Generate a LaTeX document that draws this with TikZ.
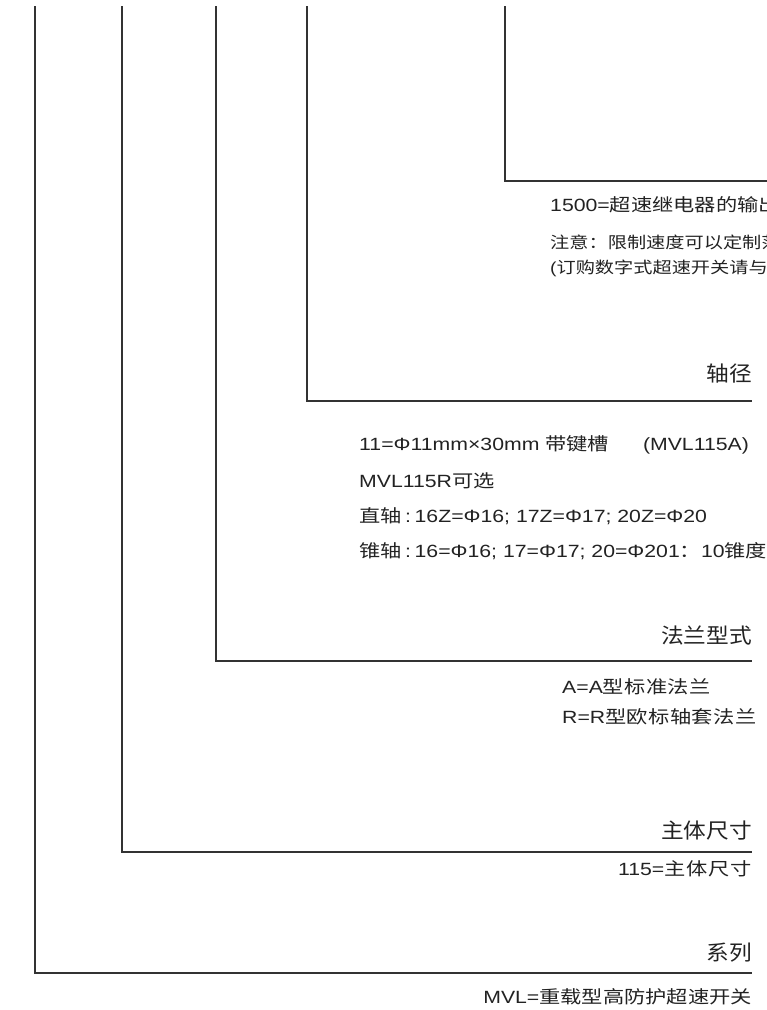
\documentclass[tikz,border=0pt]{standalone}
\usepackage{fontspec}
\usepackage{graphicx}
\setmainfont{Liberation Sans}
\newfontfamily\cjk{Noto Sans CJK SC}
\newcommand\sx[1]{\scalebox{1.2}[1]{#1}}
\newcommand\hx[1]{\scalebox{1.08}[1]{#1}}
\newcommand\cls[2]{{\cjk\addfontfeatures{LetterSpace=#1}#2}}
\definecolor{ink}{HTML}{222222}
\definecolor{linec}{HTML}{333333}
\tikzset{
  conn/.style={draw=linec, line width=1.6pt, line join=miter},
  body/.style={inner sep=0pt, text=ink, font=\fontsize{17.7}{20}\selectfont},
  note/.style={inner sep=0pt, text=ink, font=\fontsize{16}{18}\selectfont},
  head/.style={inner sep=0pt, text=ink, font=\fontsize{21}{24}\selectfont\cjk},
}
\begin{document}
\begin{tikzpicture}[x=1pt,y=-1pt]
\useasboundingbox (0,0) rectangle (767,1010);
\clip (0,0) rectangle (767,1010);
% connector coordinates
\coordinate (v1) at (35,6);   \coordinate (e1) at (752,973);
\coordinate (v2) at (122,6);  \coordinate (e2) at (752,852);
\coordinate (v3) at (216,6);  \coordinate (e3) at (752,661);
\coordinate (v4) at (307,6);  \coordinate (e4) at (752,401);
\coordinate (v5) at (505,6);  \coordinate (e5) at (770,181);
\draw[conn] (v1) |- (e1);
\draw[conn] (v2) |- (e2);
\draw[conn] (v3) |- (e3);
\draw[conn] (v4) |- (e4);
\draw[conn] (v5) |- (e5);
% output section
\node[body, anchor=base west] (t1) at (550,211) {\sx{1500={\cjk 超速继电器的输出}}};
\node[note, anchor=base west] (n1) at (550,248) {\sx{{\cjk 注意：限制速度可以定制范}}};
\node[note, anchor=base west] (n2) at (550,273) {\sx{({\cjk 订购数字式超速开关请与我}}};
% shaft
\node[head, anchor=base east] (h4) at (752,381) {\hx{轴径}};
\node[body, anchor=base west] (s1) at (359,450) {\sx{11=Φ11mm×30mm {\cjk 带键槽}\hspace{1.6em}(MVL115A)}};
\node[body, anchor=base west] (s2) at (359,487) {\sx{MVL115R{\cjk 可选}}};
\node[body, anchor=base west] (s3) at (359,522) {\sx{{\cjk 直轴}\,:\,16Z=Φ16; 17Z=Φ17; 20Z=Φ20}};
\node[body, anchor=base west] (s4) at (359,557) {\sx{{\cjk 锥轴}\,:\,16=Φ16; 17=Φ17; 20=Φ201{\cjk ：}10{\cjk 锥度}}};
% flange
\node[head, anchor=base east] (h3) at (752,643) {\hx{法兰型式}};
\node[body, anchor=base west] (f1) at (562,693) {\sx{A=A\cls{2}{型标准法兰}}};
\node[body, anchor=base west] (f2) at (562,723) {\sx{R=R\cls{2}{型欧标轴套法兰}}};
% body size
\node[head, anchor=base east] (h2) at (752,838) {\hx{主体尺寸}};
\node[body, anchor=base east] (b1) at (752,875) {\sx{115=\cls{4}{主体尺寸}}};
% series
\node[head, anchor=base east] (h1) at (752,960) {\hx{系列}};
\node[body, anchor=base east] (m1) at (752,1003) {\sx{MVL={\cjk 重载型高防护超速开关}}};
\end{tikzpicture}
\end{document}
